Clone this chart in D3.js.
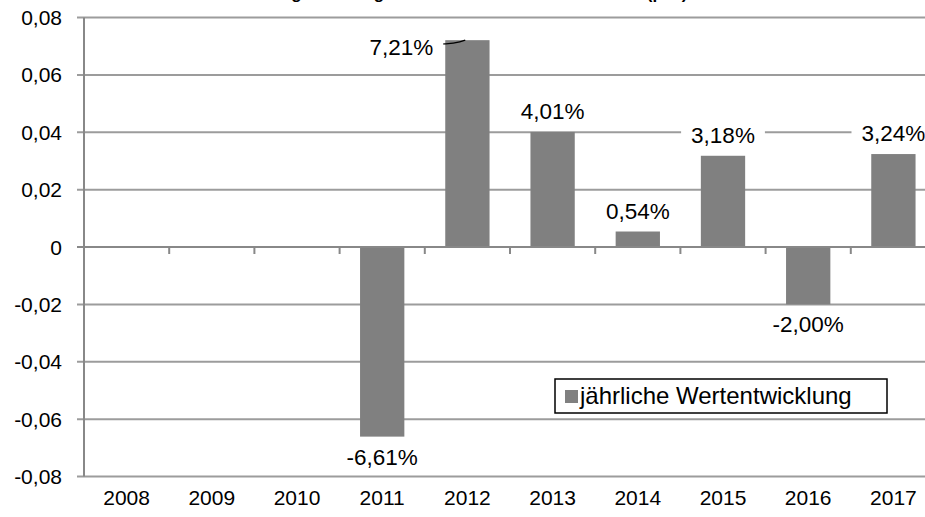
<!DOCTYPE html>
<html>
<head>
<meta charset="utf-8">
<script src="https://cdn.jsdelivr.net/npm/d3@7"></script>
<style>
  body { margin: 0; background: #fff; }
  svg { display: block; font-family: Arial, "Liberation Sans", sans-serif; }
</style>
</head>
<body>
<div id="chart"></div>
<script>
// chart data
const years = ["2008", "2009", "2010", "2011", "2012", "2013", "2014", "2015", "2016", "2017"];
const values = [null, null, null, -0.0661, 0.0721, 0.0401, 0.0054, 0.0318, -0.0200, 0.0324];
const yTicks = [-0.08, -0.06, -0.04, -0.02, 0, 0.02, 0.04, 0.06, 0.08];
const seriesName = "jährliche Wertentwicklung";
const title = "Wertentwicklung der Anlage im Kalenderzeitraum seit 2008 (p.a.)";

const width = 925, height = 517;
const plotLeft = 84, plotTop = 17.5, plotBottom = 476.5;

const de = d3.formatLocale({decimal: ",", thousands: ".", grouping: [3], currency: ["", " €"], minus: "-"});
const tickFmt = d => d === 0 ? "0" : de.format(".2f")(d);
const pctFmt = d => de.format(".2f")(d * 100) + "%";

const svg = d3.select("#chart").append("svg")
    .attr("width", width)
    .attr("height", height);

const x = d3.scaleBand()
    .domain(years)
    .range([plotLeft, plotLeft + 852])
    .paddingInner(0.48)
    .paddingOuter(0.24);

const y = d3.scaleLinear()
    .domain([-0.08, 0.08])
    .range([plotBottom, plotTop]);

const step = x.step();
const grid = "#9c9c9c";
const axisCol = "#888";

// title, mostly above the visible area (only descenders show)
svg.append("text")
    .attr("x", 166)
    .attr("y", -1)
    .style("font-size", "17px")
    .style("font-weight", "bold")
    .text(title);

// horizontal gridlines
svg.append("g")
    .selectAll("line")
    .data(yTicks.filter(d => d !== 0))
    .join("line")
    .attr("x1", plotLeft - 7)
    .attr("x2", width)
    .attr("y1", d => y(d))
    .attr("y2", d => y(d))
    .attr("stroke", grid)
    .attr("stroke-width", 2);

// y axis line + zero tick
svg.append("line")
    .attr("x1", plotLeft).attr("x2", plotLeft)
    .attr("y1", y(0.08)).attr("y2", y(-0.08))
    .attr("stroke", axisCol).attr("stroke-width", 2);

svg.append("line")
    .attr("x1", plotLeft - 7).attr("x2", plotLeft)
    .attr("y1", y(0)).attr("y2", y(0))
    .attr("stroke", axisCol).attr("stroke-width", 2);

// y tick labels
svg.append("g")
    .selectAll("text")
    .data(yTicks)
    .join("text")
    .attr("x", 62)
    .attr("y", d => y(d))
    .attr("dy", "0.36em")
    .attr("text-anchor", "end")
    .style("font-size", "21px")
    .text(tickFmt);

// bars
svg.append("g")
    .selectAll("rect")
    .data(years.map((yr, i) => ({year: yr, value: values[i]})).filter(d => d.value !== null))
    .join("rect")
    .attr("x", d => x(d.year))
    .attr("width", x.bandwidth())
    .attr("y", d => y(Math.max(0, d.value)))
    .attr("height", d => Math.abs(y(d.value) - y(0)))
    .attr("fill", "#808080");

// x axis at zero with ticks between categories
svg.append("line")
    .attr("x1", plotLeft).attr("x2", plotLeft + 852)
    .attr("y1", y(0)).attr("y2", y(0))
    .attr("stroke", axisCol).attr("stroke-width", 2);

svg.append("g")
    .selectAll("line")
    .data(years.slice(1))
    .join("line")
    .attr("x1", d => x(d) - step * 0.24)
    .attr("x2", d => x(d) - step * 0.24)
    .attr("y1", y(0))
    .attr("y2", y(0) + 7)
    .attr("stroke", axisCol)
    .attr("stroke-width", 2);

// year labels
svg.append("g")
    .selectAll("text")
    .data(years)
    .join("text")
    .attr("x", d => x(d) + x.bandwidth() / 2)
    .attr("y", 505)
    .attr("text-anchor", "middle")
    .style("font-size", "21px")
    .text(d => d);

// data labels
const labels = svg.append("g");
years.forEach((yr, i) => {
    const v = values[i];
    if (v === null) return;
    const cx = x(yr) + x.bandwidth() / 2;
    let lx = cx, ly, anchor = "middle";
    if (yr === "2012") {
        // label placed left of the bar with a small leader line
        lx = x(yr) - 12;
        ly = y(v) + 15;
        anchor = "end";
        labels.append("path")
            .attr("d", `M${x(yr) - 8},${y(v) + 4} Q${x(yr) + 10},${y(v) + 4} ${x(yr) + 20},${y(v)}`)
            .attr("fill", "none")
            .attr("stroke", "#000")
            .attr("stroke-width", 1.3);
    } else if (v >= 0) {
        ly = y(v) - 13;
    } else {
        ly = y(v) + 28;
    }
    const bg = labels.append("rect").attr("fill", "#fff");
    const t = labels.append("text")
        .attr("x", lx)
        .attr("y", ly)
        .attr("text-anchor", anchor)
        .style("font-size", "22.5px")
        .text(pctFmt(v));
    const bb = t.node().getBBox();
    bg.attr("x", bb.x - 10).attr("y", bb.y + 2)
        .attr("width", bb.width + 20).attr("height", bb.height - 4);
});

// legend
const leg = svg.append("g").attr("transform", "translate(555,379)");
leg.append("rect")
    .attr("width", 332).attr("height", 34)
    .attr("fill", "#fff")
    .attr("stroke", "#000")
    .attr("stroke-width", 1.5);
leg.append("rect")
    .attr("x", 10).attr("y", 11)
    .attr("width", 13).attr("height", 13)
    .attr("fill", "#808080");
leg.append("text")
    .attr("x", 25).attr("y", 25)
    .style("font-size", "24px")
    .text(seriesName);
</script>
</body>
</html>
